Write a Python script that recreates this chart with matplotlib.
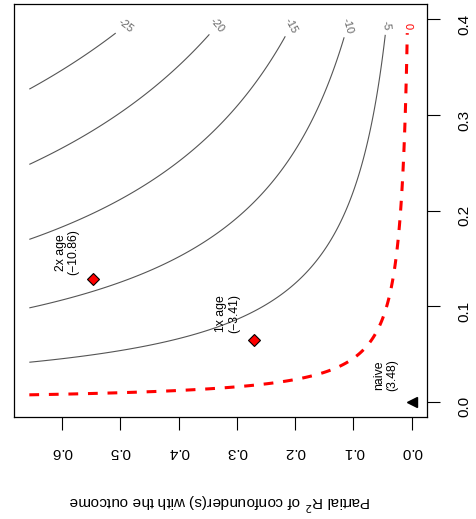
import numpy as np
import matplotlib
matplotlib.use('Agg')
import matplotlib.pyplot as plt

plt.rcParams['font.family'] = ['Liberation Sans', 'DejaVu Sans']

# sensitivity contour data (sensemakr style, plot shown rotated)
estimate = 3.48          # naive estimate
bias_scale = 50.45       # se * sqrt(dof)
r2y_max = 0.656          # outcome axis grid limit
r2d_max = 0.4            # treatment axis grid limit
levels = [-25, -20, -15, -10, -5]
threshold = 0

bench_names = ['naive', '1x age', '2x age']
bench_r2y = [0.0, 0.270, 0.546]
bench_r2d = [0.0, 0.0648, 0.1286]
bench_est = [3.48, -3.41, -10.86]

x_ticks = [0.0, 0.1, 0.2, 0.3, 0.4, 0.5, 0.6]
y_ticks = [0.0, 0.1, 0.2, 0.3, 0.4]

# adjusted estimate surface
ry = np.linspace(0, r2y_max, 300)
rd = np.linspace(0, r2d_max, 300)
RY, RD = np.meshgrid(ry, rd)
Z = estimate - bias_scale * np.sqrt(RY * RD / (1 - RD))

fig = plt.figure(figsize=(4.77, 5.19), dpi=100)
ax = fig.add_axes([0.0294, 0.1965, 0.8658, 0.7958])

cs = ax.contour(RY, RD, Z, levels=levels, colors='#555555', linewidths=0.8,
                linestyles='solid')
cs0 = ax.contour(RY, RD, Z, levels=[threshold], colors='red', linewidths=2.2,
                 linestyles=[(0, (3.2, 3.2))])

# labels near the top end of every contour line
def top_positions(cset):
    pos = []
    for segs in cset.allsegs:
        pts = np.vstack(segs)
        pts = pts[pts[:, 1] < r2d_max - 0.006]
        pos.append(tuple(pts[np.argmax(pts[:, 1])]))
    return pos

ax.clabel(cs, levels, manual=top_positions(cs), inline=True, fmt='%d',
          fontsize=8, colors='#666666')
ax.clabel(cs0, [threshold], manual=top_positions(cs0), inline=True, fmt='%d',
          fontsize=8, colors='red')

# benchmarks
ax.plot(bench_r2y[0], bench_r2d[0], marker='<', color='black', ms=7,
        linestyle='none', zorder=5)
ax.plot(bench_r2y[1:], bench_r2d[1:], marker='D', markerfacecolor='red',
        markeredgecolor='black', markeredgewidth=0.8, ms=6.2,
        linestyle='none', zorder=5)
for name, x, y, e in zip(bench_names, bench_r2y, bench_r2d, bench_est):
    lab = f'{name}\n({e:.2f})'.replace('-', '\u2212')
    ax.annotate(lab, xy=(x, y), xytext=(-19, 19), textcoords='offset points',
                rotation=90, ha='center', va='center', fontsize=8.8,
                linespacing=1.1)

ax.set_xlim(r2y_max * 1.04, -0.04 * r2y_max)
ax.set_ylim(-0.04 * r2d_max, r2d_max * 1.04)

ax.set_xticks(x_ticks)
ax.set_xticklabels([f'{t:.1f}' for t in x_ticks])
ax.set_yticks(y_ticks)
ax.set_yticklabels([f'{t:.1f}' for t in y_ticks])
ax.yaxis.tick_right()
ax.tick_params(axis='x', labelrotation=180, length=9.4, width=0.8,
               pad=11, labelsize=11)
ax.tick_params(axis='y', labelrotation=90, length=9.4, width=0.8,
               pad=12.5, labelsize=11)
for sp in ax.spines.values():
    sp.set_linewidth(0.9)

fig.text(0.461, 0.033, 'Partial R$^2$ of confounder(s) with the outcome',
         rotation=180, ha='center', va='center', fontsize=11)

fig.savefig('out.png', dpi=100)
